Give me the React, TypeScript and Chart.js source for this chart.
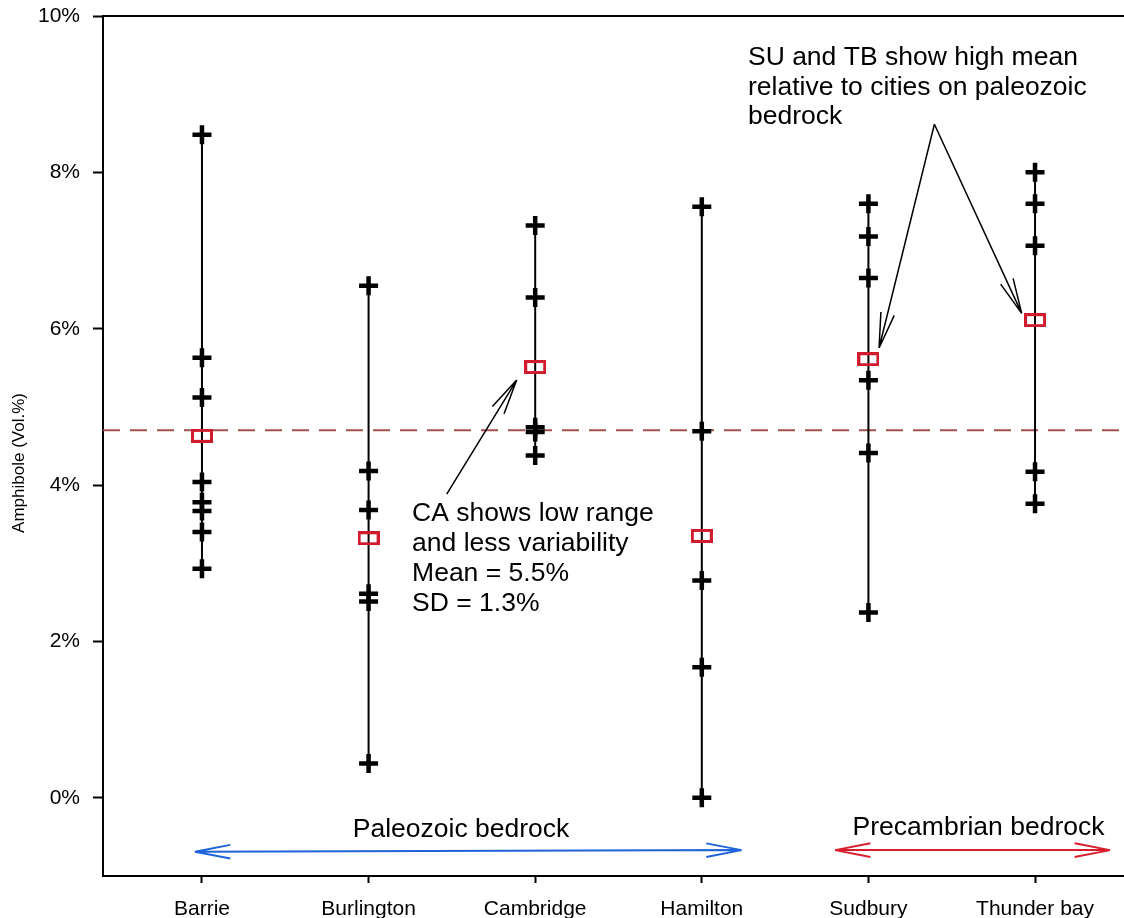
import React, { useEffect, useRef } from "react";
import { Chart, registerables } from "chart.js";

Chart.register(...registerables);

// ---- Data ----
const cities = ["Barrie", "Burlington", "Cambridge", "Hamilton", "Sudbury", "Thunder bay"];
const barrie = [8.48, 5.63, 5.12, 4.04, 3.78, 3.67, 3.4, 2.93];
const burlington = [6.55, 4.18, 3.68, 2.61, 2.51, 0.44];
const cambridge = [7.32, 6.4, 4.74, 4.68, 4.38];
const hamilton = [7.56, 4.69, 2.78, 1.67, 0.0];
const sudbury = [7.6, 7.18, 6.65, 5.34, 4.41, 2.37];
const thunderBay = [8.0, 7.6, 7.06, 4.17, 3.76];
const cityMeans = [4.63, 3.32, 5.51, 3.35, 5.61, 6.11];
const overallMean = 4.7;
const yTickValues = [0, 2, 4, 6, 8, 10];

const yTitle = "Amphibole (Vol.%)";
const caNote = ["CA shows low range", "and less variability", "Mean = 5.5%", "SD = 1.3%"];
const suNote = ["SU and TB show high mean", "relative to cities on paleozoic", "bedrock"];
const paleoLabel = "Paleozoic bedrock";
const precamLabel = "Precambrian bedrock";

// annotation anchors in data units [x, y]
const caArrowFrom = [2.469, 3.885];
const caArrowTo = [2.889, 5.343];
const caNoteAt = [2.261, 3.546];
const suArrowFrom = [5.396, 8.615];
const suArrowTargets = [[5.064, 5.753], [5.92, 6.197]];
const suNoteAt = [4.277, 9.373];
const paleoArrow = [[0.958, -0.691], [4.239, -0.669]];
const precamArrow = [[4.8, -0.669], [6.45, -0.669]];
const paleoLabelAt = [2.555, -0.507];
const precamLabelAt = [5.661, -0.477];

const X_MIN = 0.406;
const X_MAX = 6.534;
const Y_MIN = -1;
const Y_MAX = 10;

const FONT = "'Liberation Sans', Arial, Helvetica, sans-serif";
const MEAN_COLOR = "#d01c2e";
const DASH_COLOR = "#a0524f";
const BLUE = "#1f63d9";
const RED = "#d81e2c";

function drawHead(ctx: CanvasRenderingContext2D, tx: number, ty: number, fx: number, fy: number) {
  const L = 36;
  const ang = (11 * Math.PI) / 180;
  const a = Math.atan2(fy - ty, fx - tx);
  for (const s of [-1, 1]) {
    ctx.moveTo(tx, ty);
    ctx.lineTo(tx + L * Math.cos(a + s * ang), ty + L * Math.sin(a + s * ang));
  }
}

function drawArrow(
  ctx: CanvasRenderingContext2D,
  x0: number, y0: number, x1: number, y1: number,
  color: string, width: number, both: boolean
) {
  ctx.save();
  ctx.strokeStyle = color;
  ctx.lineWidth = width;
  ctx.lineCap = "butt";
  ctx.beginPath();
  ctx.moveTo(x0, y0);
  ctx.lineTo(x1, y1);
  drawHead(ctx, x1, y1, x0, y0);
  if (both) drawHead(ctx, x0, y0, x1, y1);
  ctx.stroke();
  ctx.restore();
}

const annotationPlugin = {
  id: "annotations",
  afterDraw(chart: any) {
    const ctx: CanvasRenderingContext2D = chart.ctx;
    const xs = chart.scales.x;
    const ys = chart.scales.y;
    const P = (p: number[]) => [xs.getPixelForValue(p[0]), ys.getPixelForValue(p[1])];
    const area = chart.chartArea;

    // top frame line
    ctx.save();
    ctx.strokeStyle = "#000";
    ctx.lineWidth = 2;
    ctx.beginPath();
    ctx.moveTo(area.left, area.top);
    ctx.lineTo(area.right, area.top);
    ctx.stroke();
    ctx.restore();

    // CA arrow
    {
      const [a0, b0] = P(caArrowFrom);
      const [a1, b1] = P(caArrowTo);
      drawArrow(ctx, a0, b0, a1, b1, "#000", 1.5, false);
    }
    // SU/TB arrows
    {
      const [a0, b0] = P(suArrowFrom);
      for (const t of suArrowTargets) {
        const [a1, b1] = P(t);
        drawArrow(ctx, a0, b0, a1, b1, "#000", 1.5, false);
      }
    }
    // bedrock arrows
    {
      const [a0, b0] = P(paleoArrow[0]);
      const [a1, b1] = P(paleoArrow[1]);
      drawArrow(ctx, a0, b0, a1, b1, BLUE, 2, true);
      const [c0, d0] = P(precamArrow[0]);
      const [c1, d1] = P(precamArrow[1]);
      drawArrow(ctx, c0, d0, c1, d1, RED, 2, true);
    }

    ctx.save();
    ctx.fillStyle = "#000";
    ctx.font = `26.5px ${FONT}`;
    ctx.textBaseline = "alphabetic";
    ctx.textAlign = "left";
    {
      const [tx, ty] = P(caNoteAt);
      caNote.forEach((line, i) => ctx.fillText(line, tx, ty + i * 30));
    }
    {
      const [tx, ty] = P(suNoteAt);
      suNote.forEach((line, i) => ctx.fillText(line, tx, ty + i * 29.7));
    }
    ctx.textAlign = "center";
    {
      const [tx, ty] = P(paleoLabelAt);
      ctx.fillText(paleoLabel, tx, ty);
      const [ux, uy] = P(precamLabelAt);
      ctx.fillText(precamLabel, ux, uy);
    }
    ctx.restore();

    // y axis title
    ctx.save();
    ctx.fillStyle = "#000";
    ctx.font = `17px ${FONT}`;
    ctx.textAlign = "center";
    ctx.textBaseline = "middle";
    ctx.translate(19, 463);
    ctx.rotate(-Math.PI / 2);
    ctx.fillText(yTitle, 0, 0);
    ctx.restore();
  },
};

function zeroPad(s: any) {
  s.paddingTop = 0;
  s.paddingBottom = 0;
  s.paddingLeft = 0;
  s.paddingRight = 0;
}

export default function App() {
  const ref = useRef<HTMLCanvasElement>(null);

  useEffect(() => {
    const canvas = ref.current;
    if (!canvas) return;

    const rectImg = document.createElement("canvas");
    rectImg.width = 22;
    rectImg.height = 14;
    const rc = rectImg.getContext("2d")!;
    rc.strokeStyle = MEAN_COLOR;
    rc.lineWidth = 3;
    rc.strokeRect(1.5, 1.5, 19, 11);

    const cityValues = [barrie, burlington, cambridge, hamilton, sudbury, thunderBay];
    const cityDatasets = cityValues.map((vals, i) => ({
      type: "scatter" as const,
      data: [...vals].sort((a, b) => a - b).map((v) => ({ x: i + 1, y: v })),
      showLine: true,
      borderColor: "#000",
      borderWidth: 2,
      pointStyle: "cross",
      pointRadius: 9.5,
      pointBorderWidth: 4.5,
      pointBorderColor: "#000",
      pointBackgroundColor: "#000",
      order: 1,
    }));

    const chart = new Chart(canvas, {
      type: "scatter",
      data: {
        datasets: [
          {
            data: cityMeans.map((m, i) => ({ x: i + 1, y: m })),
            pointStyle: rectImg as any,
            pointRadius: 7,
            showLine: false,
            order: 0,
          } as any,
          ...cityDatasets,
          {
            data: [
              { x: X_MIN, y: overallMean },
              { x: X_MAX, y: overallMean },
            ],
            showLine: true,
            borderColor: DASH_COLOR,
            borderWidth: 2,
            borderDash: [17, 10],
            pointRadius: 0,
            order: 2,
          } as any,
        ],
      },
      options: {
        responsive: false,
        animation: false,
        events: [],
        layout: { autoPadding: false, padding: { top: 16, left: 0, right: 0, bottom: 0 } },
        plugins: { legend: { display: false }, tooltip: { enabled: false } },
        scales: {
          x: {
            type: "linear",
            min: X_MIN,
            max: X_MAX,
            afterFit: (s: any) => {
              s.height = 42;
              zeroPad(s);
            },
            afterBuildTicks: (s: any) => {
              s.ticks = cities.map((_, i) => ({ value: i + 1 }));
            },
            ticks: {
              callback: (v: any) => cities[Number(v) - 1] ?? "",
              autoSkip: false,
              maxRotation: 0,
              color: "#000",
              font: { family: FONT, size: 21 },
              padding: 14,
            },
            grid: { drawOnChartArea: false, tickLength: 7, tickColor: "#000", tickWidth: 2 },
            border: { display: true, color: "#000", width: 2 },
          },
          y: {
            type: "linear",
            min: Y_MIN,
            max: Y_MAX,
            afterFit: (s: any) => {
              s.width = 103;
              zeroPad(s);
            },
            afterBuildTicks: (s: any) => {
              s.ticks = yTickValues.map((v) => ({ value: v }));
            },
            ticks: {
              callback: (v: any) => `${v}%`,
              color: "#000",
              font: { family: FONT, size: 21 },
              padding: 13,
            },
            grid: { drawOnChartArea: false, tickLength: 10, tickColor: "#000", tickWidth: 2 },
            border: { display: true, color: "#000", width: 2 },
          },
        },
      } as any,
      plugins: [annotationPlugin],
    });

    return () => chart.destroy();
  }, []);

  return (
    <div style={{ position: "fixed", left: 0, top: 0, width: 1124, height: 918, background: "#fff" }}>
      <canvas ref={ref} width={1124} height={918} style={{ width: 1124, height: 918, display: "block" }} />
    </div>
  );
}
